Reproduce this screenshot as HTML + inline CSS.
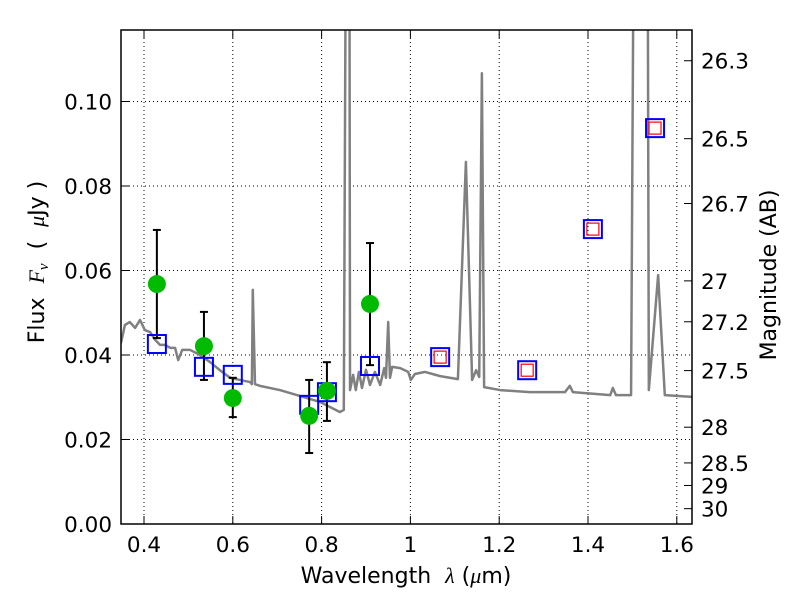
<!DOCTYPE html>
<html><head><meta charset="utf-8"><style>
body{margin:0;background:#fff}
svg{display:block;font-family:"DejaVu Sans","Liberation Sans",sans-serif}
</style></head><body>
<svg id="chart" width="800" height="600" viewBox="0 0 800 600">
<rect width="800" height="600" fill="#fff"/>
<g id="grid"></g>
<g id="plot"></g>
<g id="axes"></g>
<text x="406" y="583" font-size="22" text-anchor="middle" xml:space="preserve">Wavelength  <tspan font-style="italic" font-family="Liberation Serif, serif">λ</tspan> (<tspan font-style="italic" font-family="Liberation Serif, serif">μ</tspan>m)</text>
<text transform="translate(44,262) rotate(-90)" font-size="22" text-anchor="middle" xml:space="preserve">Flux  <tspan font-style="italic" font-family="Liberation Serif, serif">F<tspan font-size="15" dy="4">ν</tspan></tspan><tspan dy="-4">  (  </tspan><tspan font-style="italic" font-family="Liberation Serif, serif">μ</tspan>Jy )</text>
<text transform="translate(776,275) rotate(-90)" font-size="22" text-anchor="middle">Magnitude (AB)</text>
</svg>
<script>
const specWave=[0.348,0.357,0.368,0.380,0.391,0.402,0.414,0.425,0.436,0.447,0.459,0.470,0.477,0.486,0.504,0.526,0.549,0.571,0.594,0.616,0.639,0.643,0.645,0.650,0.661,0.706,0.751,0.796,0.841,0.850,0.857,0.862,0.864,0.871,0.877,0.884,0.891,0.900,0.909,0.920,0.932,0.941,0.945,0.950,0.954,0.959,0.977,0.995,1.001,1.010,1.033,1.067,1.107,1.125,1.139,1.148,1.155,1.161,1.166,1.202,1.269,1.348,1.359,1.366,1.450,1.456,1.463,1.497,1.506,1.533,1.537,1.558,1.573,1.634];
const specFlux=[0.0428,0.0471,0.0478,0.0464,0.0483,0.0459,0.0454,0.0436,0.0424,0.0424,0.0417,0.0417,0.0388,0.0412,0.0412,0.0400,0.0383,0.0364,0.0346,0.0341,0.0336,0.0331,0.0554,0.0331,0.0327,0.0317,0.0303,0.0289,0.0265,0.0270,0.2,0.2,0.0317,0.0353,0.0317,0.0360,0.0322,0.0365,0.0329,0.0360,0.0329,0.0369,0.0346,0.0478,0.0346,0.0372,0.0369,0.0360,0.0341,0.0355,0.0360,0.0350,0.0343,0.0857,0.0341,0.0364,0.0348,0.1067,0.0324,0.0317,0.0312,0.0312,0.0327,0.0312,0.0305,0.0322,0.0305,0.0305,0.2,0.2,0.0317,0.0589,0.0305,0.0301];
const obsWave=[0.429,0.535,0.600,0.772,0.812,0.909];
const obsFlux=[0.0568,0.0421,0.0298,0.0256,0.0315,0.0521];
const obsErrHi=[0.0696,0.0502,0.0346,0.0341,0.0383,0.0665];
const obsErrLo=[0.0440,0.0341,0.0253,0.0168,0.0244,0.0376];
const modelWave=[0.429,0.535,0.600,0.772,0.812,0.909,1.067,1.263,1.411,1.551];
const modelFlux=[0.0426,0.0372,0.0353,0.0282,0.0312,0.0374,0.0395,0.0364,0.0698,0.0937];
const predWave=[1.067,1.263,1.411,1.551];
const predFlux=[0.0395,0.0364,0.0698,0.0937];
const xTicks=[0.4,0.6,0.8,1.0,1.2,1.4,1.6];
const xTickLabels=["0.4","0.6","0.8","1","1.2","1.4","1.6"];
const yTicks=[0,0.02,0.04,0.06,0.08,0.10];
const yTickLabels=["0.00","0.02","0.04","0.06","0.08","0.10"];
const magTicks=[26.3,26.5,26.7,27,27.2,27.5,28,28.5,29,30];
const magTickLabels=["26.3","26.5","26.7","27","27.2","27.5","28","28.5","29","30"];

const L=121,R=692,T=30,B=524;
const X=v=>144+(v-0.4)*444;
const Y=v=>524-v*4225;
const NS="http://www.w3.org/2000/svg";
function mk(tag,attrs,parent){const e=document.createElementNS(NS,tag);for(const k in attrs)e.setAttribute(k,attrs[k]);parent.appendChild(e);return e;}
const grid=document.getElementById('grid'),plot=document.getElementById('plot'),axes=document.getElementById('axes');

xTicks.forEach((t,i)=>{
  const g=mk('line',{x1:X(t),x2:X(t),y1:T,y2:B,stroke:'#000','stroke-width':1,'stroke-dasharray':'1,3'},grid);
  
  
  mk('line',{x1:X(t),x2:X(t),y1:B,y2:B-8,stroke:'#000'},axes);
  mk('line',{x1:X(t),x2:X(t),y1:T,y2:T+8,stroke:'#000'},axes);
  const tx=mk('text',{x:X(t),y:B+28,'font-size':21.5,'text-anchor':'middle'},axes);
  tx.textContent=xTickLabels[i];
  
  
});
yTicks.forEach((t,i)=>{
  const g=mk('line',{x1:L,x2:R,y1:Y(t),y2:Y(t),stroke:'#000','stroke-width':1,'stroke-dasharray':'1,3'},grid);
  
  
  mk('line',{x1:L,x2:L+8,y1:Y(t),y2:Y(t),stroke:'#000'},axes);
  const tx=mk('text',{x:L-9,y:Y(t)+8,'font-size':21.5,'text-anchor':'end'},axes);
  tx.textContent=yTickLabels[i];
  
  
});
magTicks.forEach((m,i)=>{
  const y=Y(Math.pow(10,(23.9-m)/2.5));
  mk('line',{x1:R,x2:R-8,y1:y,y2:y,stroke:'#000'},axes);
  const tx=mk('text',{x:R+9,y:y+8,'font-size':21.5},axes);
  tx.textContent=magTickLabels[i];
  
  
});

const cp=mk('clipPath',{id:'clip'},plot);mk('rect',{x:L,y:T,width:R-L,height:B-T},cp);
const cg=mk('g',{'clip-path':'url(#clip)'},plot);
const sp=mk('polyline',{points:specWave.map((w,i)=>X(w)+','+Y(specFlux[i])).join(' '),fill:'none',stroke:'#808080','stroke-width':2.5,'stroke-linejoin':'round'},cg);



obsWave.forEach((w,i)=>{
  const x=X(w);
  const e=mk('g',{stroke:'#000','stroke-width':2},cg);
  
  
  mk('line',{x1:x,x2:x,y1:Y(obsErrHi[i]),y2:Y(obsErrLo[i])},e);
  mk('line',{x1:x-4,x2:x+4,y1:Y(obsErrHi[i]),y2:Y(obsErrHi[i])},e);
  mk('line',{x1:x-4,x2:x+4,y1:Y(obsErrLo[i]),y2:Y(obsErrLo[i])},e);
});
modelWave.forEach((w,i)=>{
  const r=mk('rect',{x:X(w)-9,y:Y(modelFlux[i])-9,width:18,height:18,fill:'none',stroke:'#0000ff','stroke-width':2},cg);
  
  
});
predWave.forEach((w,i)=>{
  const r=mk('rect',{x:X(w)-6,y:Y(predFlux[i])-6,width:12,height:12,fill:'none',stroke:'#ff0000','stroke-width':1.2},cg);
  
  
});
obsWave.forEach((w,i)=>{
  const c=mk('circle',{cx:X(w),cy:Y(obsFlux[i]),r:9,fill:'#00bb00'},cg);
  
  
});
const fr=mk('rect',{x:L,y:T,width:R-L,height:B-T,fill:'none',stroke:'#000','stroke-width':1.5},axes);


</script>
</body></html>
